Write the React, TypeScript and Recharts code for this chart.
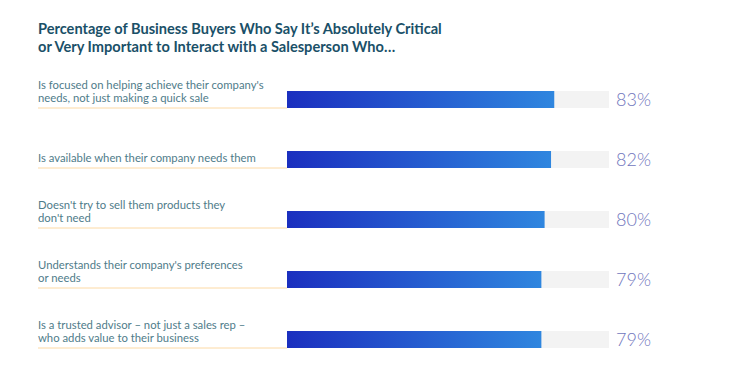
import { Bar, BarChart, XAxis, YAxis } from "recharts";

const labels = [
  "Is focused on helping achieve their company's\nneeds, not just making a quick sale",
  "Is available when their company needs them",
  "Doesn't try to sell them products they\ndon't need",
  "Understands their company's preferences\nor needs",
  "Is a trusted advisor – not just a sales rep –\nwho adds value to their business",
];
const shares = [83, 82, 80, 79, 79];

const data = labels.map((label, i) => ({ label, share: shares[i] }));

const LEFT_X = 30;
const AXIS_W = 279;

function LabelTick(props: any) {
  const { y, payload } = props;
  const lines: string[] = String(payload.value).split("\n");
  const first = lines.length === 1 ? 0 : -13;
  return (
    <g>
      {lines.map((line, i) => (
        <text
          key={i}
          x={LEFT_X}
          y={y + first + i * 13 + 3}
          fontSize={11.3}
          fill="#4f7c8a"
          fontFamily="Lato, sans-serif"
        >
          {line}
        </text>
      ))}
      <line x1={LEFT_X} x2={AXIS_W} y1={y + 9} y2={y + 9} stroke="#fcd9a4" strokeWidth={1} />
    </g>
  );
}

function ValueTick(props: any) {
  const { x, y, index } = props;
  return (
    <text
      x={x - 3}
      y={y + 7}
      fontSize={18}
      fill="#7076bd"
      fontFamily="Lato, sans-serif"
      fontWeight={300}
    >
      {shares[index]}%
    </text>
  );
}

export default function App() {
  return (
    <div style={{ position: "relative", width: 738, height: 369, background: "#fff" }}>
      <div
        style={{
          position: "absolute",
          left: 30,
          top: 12,
          fontFamily: "Lato, sans-serif",
          fontWeight: 700,
          fontSize: 14.6,
          lineHeight: "18px",
          color: "#1a5068",
        }}
      >
        Percentage of Business Buyers Who Say It’s Absolutely Critical
        <br />
        or Very Important to Interact with a Salesperson Who…
      </div>
      <BarChart
        width={738}
        height={369}
        data={data}
        layout="vertical"
        margin={{ top: 61, right: 0, left: 0, bottom: 8 }}
      >
        <defs>
          <linearGradient id="barFill" x1="0" y1="0" x2="1" y2="0">
            <stop offset="0%" stopColor="#1b2fbf" />
            <stop offset="100%" stopColor="#2f86df" />
          </linearGradient>
        </defs>
        <XAxis type="number" domain={[0, 100]} hide />
        <YAxis
          yAxisId="left"
          type="category"
          dataKey="label"
          width={AXIS_W}
          axisLine={false}
          tickLine={false}
          tick={<LabelTick />}
        />
        <YAxis
          yAxisId="right"
          orientation="right"
          type="category"
          dataKey="label"
          width={137}
          axisLine={false}
          tickLine={false}
          tickMargin={4}
          tick={<ValueTick />}
        />
        <Bar
          yAxisId="left"
          dataKey="share"
          barSize={17}
          fill="url(#barFill)"
          background={{ fill: "#f3f3f3" }}
          isAnimationActive={false}
        />
      </BarChart>
    </div>
  );
}
